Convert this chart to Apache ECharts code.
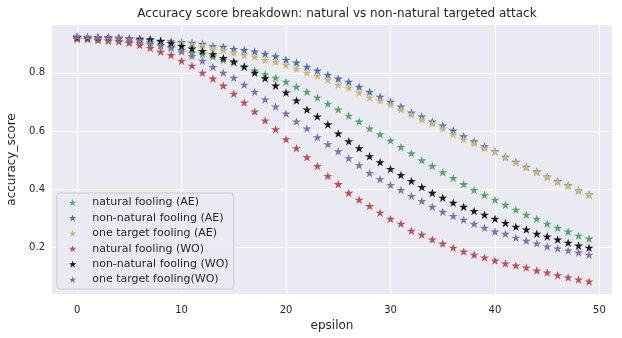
<!DOCTYPE html>
<html>
<head>
<meta charset="utf-8">
<script src="https://cdn.jsdelivr.net/npm/echarts@6/dist/echarts.min.js"></script>
<style>
  html, body { margin: 0; padding: 0; background: #fff; }
  #chart { width: 622px; height: 338px; }
</style>
</head>
<body>
<div id="chart"></div>
<script>
// epsilon 0..49
const epsilon = [];
for (let i = 0; i < 50; i++) epsilon.push(i);

const naturalAE = [0.916, 0.915, 0.912, 0.910, 0.907, 0.905, 0.902, 0.898, 0.893, 0.890,
  0.878, 0.869, 0.865, 0.856, 0.844, 0.835, 0.822, 0.808, 0.795, 0.783,
  0.769, 0.752, 0.735, 0.715, 0.694, 0.674, 0.653, 0.633, 0.609, 0.589,
  0.568, 0.545, 0.524, 0.500, 0.480, 0.459, 0.439, 0.418, 0.398, 0.381,
  0.364, 0.347, 0.330, 0.313, 0.299, 0.282, 0.268, 0.255, 0.241, 0.231];
const nonNaturalAE = [0.922, 0.921, 0.920, 0.919, 0.918, 0.916, 0.914, 0.912, 0.910, 0.908,
  0.906, 0.903, 0.900, 0.892, 0.889, 0.882, 0.878, 0.873, 0.865, 0.857,
  0.845, 0.835, 0.821, 0.808, 0.793, 0.780, 0.769, 0.752, 0.735, 0.718,
  0.701, 0.684, 0.664, 0.650, 0.633, 0.619, 0.602, 0.582, 0.565, 0.548,
  0.531, 0.512, 0.495, 0.478, 0.461, 0.444, 0.428, 0.414, 0.396, 0.382];
const oneTargetAE = [0.916, 0.916, 0.915, 0.914, 0.912, 0.910, 0.908, 0.906, 0.904, 0.901,
  0.901, 0.898, 0.894, 0.884, 0.878, 0.869, 0.861, 0.855, 0.844, 0.837,
  0.827, 0.814, 0.800, 0.790, 0.776, 0.759, 0.749, 0.732, 0.715, 0.705,
  0.691, 0.674, 0.657, 0.640, 0.626, 0.609, 0.589, 0.572, 0.558, 0.541,
  0.529, 0.509, 0.492, 0.475, 0.459, 0.442, 0.425, 0.412, 0.395, 0.381];
const naturalWO = [0.918, 0.917, 0.914, 0.911, 0.909, 0.903, 0.895, 0.885, 0.872, 0.861,
  0.841, 0.824, 0.800, 0.780, 0.756, 0.728, 0.698, 0.667, 0.636, 0.606,
  0.572, 0.541, 0.510, 0.480, 0.446, 0.418, 0.388, 0.364, 0.343, 0.320,
  0.299, 0.282, 0.258, 0.245, 0.228, 0.214, 0.200, 0.187, 0.176, 0.166,
  0.156, 0.146, 0.139, 0.132, 0.122, 0.115, 0.105, 0.098, 0.091, 0.084];
const nonNaturalWO = [0.922, 0.922, 0.921, 0.922, 0.920, 0.918, 0.917, 0.915, 0.909, 0.901,
  0.892, 0.883, 0.875, 0.864, 0.851, 0.839, 0.821, 0.800, 0.781, 0.756,
  0.732, 0.705, 0.674, 0.650, 0.623, 0.592, 0.565, 0.541, 0.514, 0.493,
  0.470, 0.449, 0.429, 0.408, 0.388, 0.371, 0.354, 0.340, 0.326, 0.313,
  0.299, 0.285, 0.272, 0.262, 0.248, 0.238, 0.228, 0.217, 0.207, 0.200];
const oneTargetWO = [0.925, 0.924, 0.923, 0.922, 0.920, 0.917, 0.912, 0.903, 0.894, 0.885,
  0.873, 0.858, 0.841, 0.820, 0.800, 0.783, 0.759, 0.735, 0.708, 0.684,
  0.660, 0.633, 0.609, 0.579, 0.555, 0.531, 0.507, 0.483, 0.456, 0.435,
  0.415, 0.398, 0.377, 0.360, 0.340, 0.323, 0.309, 0.296, 0.282, 0.268,
  0.255, 0.248, 0.234, 0.224, 0.214, 0.204, 0.197, 0.190, 0.183, 0.176];

const seriesNames = ['natural fooling (AE)', 'non-natural fooling (AE)', 'one target fooling (AE)',
  'natural fooling (WO)', 'non-natural fooling (WO)', 'one target fooling(WO)'];
const seriesData = [naturalAE, nonNaturalAE, oneTargetAE, naturalWO, nonNaturalWO, oneTargetWO];
const colors = ['#55A868', '#4C72B0', '#CCB974', '#C44E52', '#1A1A1A', '#8172B2'];

const xTicks = [0, 10, 20, 30, 40, 50];
const yTicks = [0.2, 0.4, 0.6, 0.8];

const star = 'path://M50 0L61.23 34.55L97.55 34.55L68.17 55.9L79.39 90.45L50 69.1L20.61 90.45L31.83 55.9L2.45 34.55L38.77 34.55Z';
const font = 'DejaVu Sans';

const myChart = echarts.init(document.getElementById('chart'));

let option = {
  animation: false,
  backgroundColor: '#ffffff',
  color: colors,
  title: {
    text: 'Accuracy score breakdown: natural vs non-natural targeted attack',
    left: 332,
    textAlign: 'center',
    top: 3,
    textStyle: { fontFamily: font, fontSize: 12, fontWeight: 'normal', color: '#262626' }
  },
  grid: {
    left: 52, right: 10, top: 25, bottom: 44,
    containLabel: false,
    outerBoundsMode: 'none',
    show: true, backgroundColor: '#EAEAF2', borderWidth: 0
  },
  legend: {
    orient: 'vertical',
    left: 57,
    top: 193,
    icon: star,
    itemWidth: 25,
    itemHeight: 7,
    itemGap: 2.4,
    padding: [3, 5, 3, 12],
    backgroundColor: 'rgba(234,234,242,0.8)',
    borderColor: '#cccccc',
    borderWidth: 1,
    borderRadius: 3,
    textStyle: { fontFamily: font, fontSize: 11, color: '#262626', lineHeight: 13, padding: [0, 0, 0, 2] },
    data: seriesNames
  },
  xAxis: {
    type: 'value',
    min: -2.4,
    max: 51.2,
    name: 'epsilon',
    nameLocation: 'middle',
    nameGap: 25,
    nameTextStyle: { fontFamily: font, fontSize: 12, color: '#262626' },
    axisLine: { show: false },
    axisTick: { show: false, customValues: xTicks },
    axisLabel: { customValues: xTicks, fontFamily: font, fontSize: 10, color: '#262626', margin: 11 },
    splitLine: { show: true, lineStyle: { color: '#ffffff', width: 1 } }
  },
  yAxis: {
    type: 'value',
    min: 0.041,
    max: 0.964,
    name: 'accuracy_score',
    nameLocation: 'middle',
    nameGap: 33,
    nameTextStyle: { fontFamily: font, fontSize: 12, color: '#262626' },
    axisLine: { show: false },
    axisTick: { show: false, customValues: yTicks },
    axisLabel: {
      customValues: yTicks, fontFamily: font, fontSize: 10, color: '#262626', margin: 7,
      formatter: v => v.toFixed(1)
    },
    splitLine: { show: true, lineStyle: { color: '#ffffff', width: 1 } }
  },
  series: seriesNames.map((name, k) => ({
    name: name,
    type: 'scatter',
    symbol: star,
    symbolKeepAspect: true,
    symbolSize: 9,
    itemStyle: { color: colors[k], opacity: 1 },
    data: epsilon.map((e, i) => [e, seriesData[k][i]])
  }))
};
myChart.setOption(option);
window.onresize = function() {
  myChart.resize();
};
</script>
</body>
</html>
